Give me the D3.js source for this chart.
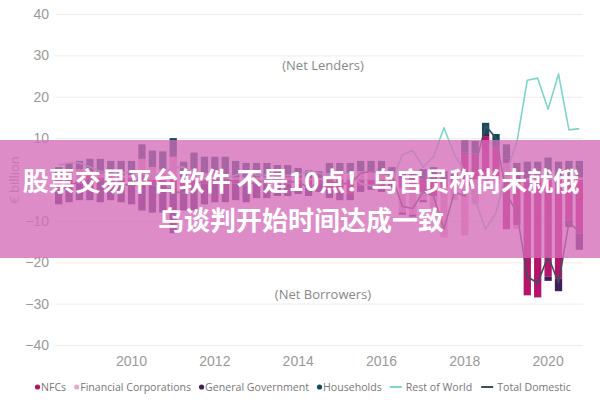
<!DOCTYPE html>
<html>
<head>
<meta charset="utf-8">
<script src="https://cdn.jsdelivr.net/npm/d3@7"></script>
<style>
  body { margin: 0; background: #fff; }
  svg { font-family: "Open Sans", "Liberation Sans", sans-serif; }
</style>
</head>
<body>
<svg id="chart" width="600" height="400"></svg>
<script>
// quarterly categories, 2008Q2 .. 2020Q4
const quarters = [
  "2008Q2","2008Q3","2008Q4",
  "2009Q1","2009Q2","2009Q3","2009Q4",
  "2010Q1","2010Q2","2010Q3","2010Q4",
  "2011Q1","2011Q2","2011Q3","2011Q4",
  "2012Q1","2012Q2","2012Q3","2012Q4",
  "2013Q1","2013Q2","2013Q3","2013Q4",
  "2014Q1","2014Q2","2014Q3","2014Q4",
  "2015Q1","2015Q2","2015Q3","2015Q4",
  "2016Q1","2016Q2","2016Q3","2016Q4",
  "2017Q1","2017Q2","2017Q3","2017Q4",
  "2018Q1","2018Q2","2018Q3","2018Q4",
  "2019Q1","2019Q2","2019Q3","2019Q4",
  "2020Q1","2020Q2","2020Q3","2020Q4"
];

// € billion
const nfcs = [-3,-2,-1, 1,0.5,0.5,0.5, 0.5,0.5,-1.5,-1.5, -2,-1.5,-1.5,-1, -1,-1,-1,-1.5,
  -1,-1,-1,-1, -1,-1.5,-1,-2.5, -3,-3.5,-1.5,-1.5, -2,-1,-2,-1.5, -3,-4,-2,-1,
  6,6,10.5,7.5, -12,-11,-28,-28.5, -23.5,-24,-10,-13];
const financialCorps = [1.5,2,2.5, 1,1,0.5,0.5, 0.5,4.5,3,2.5, 5.5,0.5,2.5,1.5, 1.5,1,0.5,0.5,
  0.5,0.5,0.5,0.5, 0.3,0.2,0.3,1.5, 1.5,1.5,2,2, 2,1,-6,-7, -2,-3,-12,-4,
  -13.5,-6,-1,-1, 4,-1,0.3,0.3, 0.5,0.3,0.5,0.5];
const generalGov = [-3,-3.5,-4, -5,-5.5,-5,-5.5, -6,-7.5,-6.5,-6.5, -11,-6,-6,-5, -4.5,-4.5,-4,-4,
  -3.5,-3.5,-3,-3, -2.5,-2.5,-2,-2, -2,-1.5,-1.5,-1, -1,-1,-0.5,-0.5, -0.5,0.5,0.5,0.5,
  0.5,0.3,0.5,0.5, 1,1,1,1, -1,-3,-1.5,-4];
const households = [1.5,2,2, 3,3.5,3.5,3.5, 3.5,3.5,4,4.3, 4.5,3.8,4,4, 4,4.5,4,3.5,
  3.5,3.5,3,3, 2.5,2,1.7,2.5, 2.5,2.5,2.5,2.5, 2.5,2,2,2, 2.5,2.5,1.5,1.5,
  3,3,2.7,3, 3.5,3,3,3, 4.8,4,4,4];
const restOfWorld = [3.5,4,4, 3,2,1.5,1.5, 2,-0.5,1,1.5, 3,3,1.5,1, 0.5,0.5,1,2,
  1,1,1,1, 1,2,1.5,1, 1.5,1.5,-1,-1.5, -1,-0.5,6,7, 3,5.5,12.5,6,
  2,-5,-12,-8, 2,9,24,24.5, 17,25.5,12,12.3];
const totalDomestic = [-3,-1.5,-0.5, 0,-0.5,-0.5,-1, -1.5,1,-1,-1.2, -3,-3.2,-1,-0.5, 0,0,-0.5,-1.5,
  -0.5,-0.5,-0.5,-0.5, -0.7,-1.8,-1,-0.5, -1,-1,1.5,2, 1.5,1,-6.5,-7, -3,-4,-12,-3,
  -4,3.3,13,10, -3.5,-8,-23.5,-25, -18.5,-25,-10.5,-12.5];

const yTicks = [-40, -30, -20, -10, 0, 10, 20, 30, 40];
const yearTicks = ["2010Q1", "2012Q1", "2014Q1", "2016Q1", "2018Q1", "2020Q1"];

const sectorNames = ["NFCs", "Financial Corporations", "General Government", "Households"];
const sectorColors = ["#b4156a", "#eba6c8", "#3e1f5c", "#0d4d5e"];
const lineNames = ["Rest of World", "Total Domestic"];
const lineColors = ["#7dd6c9", "#404e5a"];

const headline = ["股票交易平台软件 不是10点！乌官员称尚未就俄", "乌谈判开始时间达成一致"];

const svg = d3.select("#chart");
const plotLeft = 55, plotRight = 583, plotTop = 14, plotBottom = 345;

const x = d3.scaleBand().domain(quarters).range([plotLeft, plotRight]).paddingInner(0.3).paddingOuter(0);
const y = d3.scaleLinear().domain([-40, 40]).range([plotBottom, plotTop]);

// grid + y labels (the 0 label sits under the banner text, so it is left blank)
const yAxis = svg.append("g")
  .attr("transform", "translate(" + plotLeft + ",0)")
  .call(d3.axisLeft(y).tickValues(yTicks).tickSize(-(plotRight - plotLeft)).tickPadding(6)
    .tickFormat(d => d === 0 ? "" : d3.format("d")(d)));
yAxis.select(".domain").remove();
yAxis.selectAll("line").attr("stroke", "#ececec");
yAxis.selectAll("text").attr("fill", "#9a9a9a").attr("font-size", 14);

const xAxis = svg.append("g")
  .attr("transform", "translate(0," + plotBottom + ")")
  .call(d3.axisBottom(x).tickValues(yearTicks).tickSize(0).tickPadding(11).tickFormat(d => d.slice(0, 4)));
xAxis.select(".domain").remove();
xAxis.selectAll("text").attr("fill", "#9a9a9a").attr("font-size", 14);

svg.append("text")
  .attr("transform", "translate(19,180) rotate(-90)")
  .attr("text-anchor", "middle")
  .attr("fill", "#999")
  .attr("font-size", 13)
  .text("€ billion");

svg.append("text").attr("x", 323).attr("y", 70).attr("text-anchor", "middle")
  .attr("fill", "#888").attr("font-size", 13).text("(Net Lenders)");
svg.append("text").attr("x", 323).attr("y", 299).attr("text-anchor", "middle")
  .attr("fill", "#888").attr("font-size", 13).text("(Net Borrowers)");

// stacked bars
const table = quarters.map((q, i) => ({
  quarter: q,
  "NFCs": nfcs[i],
  "Financial Corporations": financialCorps[i],
  "General Government": generalGov[i],
  "Households": households[i]
}));
const series = d3.stack().keys(sectorNames).offset(d3.stackOffsetDiverging)(table);

svg.append("g").selectAll("g")
  .data(series)
  .join("g")
  .attr("fill", (d, i) => sectorColors[i])
  .selectAll("rect")
  .data(d => d)
  .join("rect")
  .attr("x", d => x(d.data.quarter))
  .attr("width", x.bandwidth())
  .attr("y", d => y(Math.max(d[0], d[1])))
  .attr("height", d => Math.abs(y(d[0]) - y(d[1])));

// lines
const line = d3.line()
  .x((d, i) => x(quarters[i]) + x.bandwidth() / 2)
  .y(d => y(d));
[restOfWorld, totalDomestic].forEach((vals, k) => {
  svg.append("path")
    .datum(vals)
    .attr("fill", "none")
    .attr("stroke", lineColors[k])
    .attr("stroke-width", 1.6)
    .attr("stroke-linejoin", "round")
    .attr("d", line);
});

// legend
const legend = svg.append("g").attr("font-size", 10.6).attr("fill", "#777");
let lx = 35;
const ly = 387;
sectorNames.forEach((name, i) => {
  legend.append("circle").attr("cx", lx + 2.5).attr("cy", ly).attr("r", 2.6).attr("fill", sectorColors[i]);
  const t = legend.append("text").attr("x", lx + 6).attr("y", ly + 3.6).text(name);
  lx += 6 + t.node().getComputedTextLength() + 8;
});
lineNames.forEach((name, i) => {
  legend.append("line").attr("x1", lx).attr("x2", lx + 12).attr("y1", ly).attr("y2", ly)
    .attr("stroke", lineColors[i]).attr("stroke-width", 2);
  const t = legend.append("text").attr("x", lx + 16).attr("y", ly + 3.6).text(name);
  lx += 16 + t.node().getComputedTextLength() + 9;
});

// headline banner over the chart
svg.append("rect")
  .attr("x", 0).attr("y", 140).attr("width", 600).attr("height", 118)
  .attr("fill", "rgba(213,107,184,0.78)");
svg.append("g")
  .attr("font-family", "'Noto Sans CJK SC', sans-serif")
  .attr("font-weight", "bold")
  .attr("font-size", 26)
  .attr("fill", "#fff")
  .attr("text-anchor", "middle")
  .selectAll("text")
  .data(headline)
  .join("text")
  .attr("x", 301)
  .attr("y", (d, i) => 191 + i * 39)
  .text(d => d);
</script>
</body>
</html>
